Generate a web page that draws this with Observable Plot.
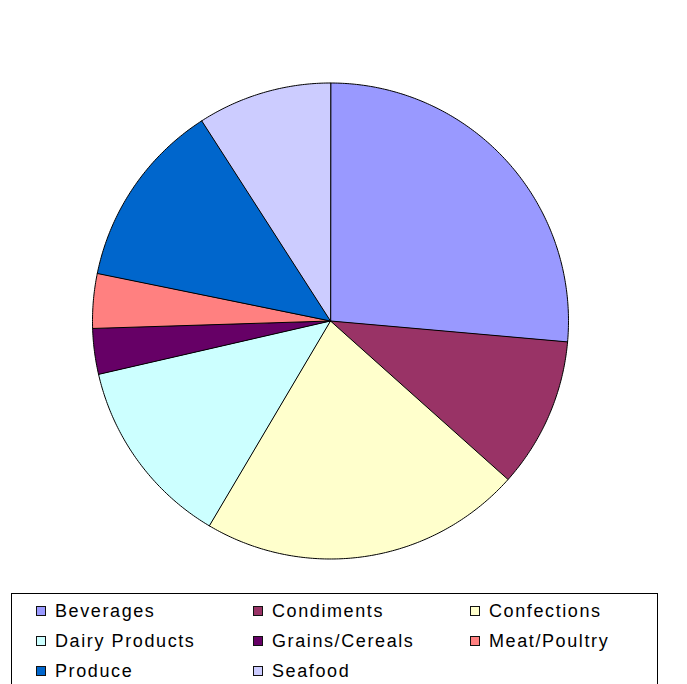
<!DOCTYPE html>
<html>
<head>
<meta charset="utf-8">
<script src="https://cdn.jsdelivr.net/npm/d3@7"></script>
<script src="https://cdn.jsdelivr.net/npm/@observablehq/plot@0.6"></script>
<style>
  html, body { margin: 0; padding: 0; background: #ffffff; }
  #wrap { position: relative; width: 687px; height: 684px; overflow: hidden; background: #ffffff; }
  #chart svg { display: block; }
  #legend {
    position: absolute; left: 11px; top: 593px; width: 647px; height: 120px;
    border: 1px solid #000; background: #fff; box-sizing: border-box;
    font-family: "Liberation Sans", Arial, sans-serif; font-size: 18px; letter-spacing: 1.6px; color: #000;
  }
  .item { position: absolute; display: flex; align-items: center; white-space: nowrap; height: 20px; }
  .sw { width: 10px; height: 10px; border: 1px solid #111; box-sizing: border-box; margin-right: 9px; flex: none; }
</style>
</head>
<body>
<div id="wrap">
  <div id="chart"></div>
  <div id="legend"></div>
</div>
<script>
const categories = ["Beverages", "Condiments", "Confections", "Dairy Products", "Grains/Cereals", "Meat/Poultry", "Produce", "Seafood"];
const values = [26.4, 10.2, 21.9, 12.9, 3.1, 3.7, 12.7, 9.1];
const colors = ["#9999FF", "#993366", "#FFFFCC", "#CCFFFF", "#660066", "#FF8080", "#0066CC", "#CCCCFF"];

const data = categories.map((c, i) => ({category: c, value: values[i]}));
const arcs = d3.pie().sort(null).value(d => d.value)(data);

// Slice outlines (center + arc samples) in unit coordinates from the pie angles
const pts = [];
arcs.forEach(a => {
  const c = a.data.category;
  pts.push({category: c, x: 0, y: 0});
  const n = Math.max(2, Math.ceil((a.endAngle - a.startAngle) / 0.01));
  for (let k = 0; k <= n; k++) {
    const t = a.startAngle + (a.endAngle - a.startAngle) * k / n;
    pts.push({category: c, x: Math.sin(t), y: Math.cos(t)});
  }
});

const chart = Plot.plot({
  width: 687,
  height: 590,
  marginLeft: 92,
  marginRight: 119,
  marginTop: 82.5,
  marginBottom: 31.5,
  x: {domain: [-1, 1], axis: null},
  y: {domain: [-1, 1], axis: null},
  color: {domain: categories, range: colors},
  style: {background: "transparent"},
  marks: [
    Plot.line(pts, {x: "x", y: "y", z: "category", fill: "category", stroke: "#000", strokeWidth: 1, curve: "linear-closed"})
  ]
});
document.getElementById("chart").appendChild(chart);

// Legend (HTML, below the SVG)
const legend = document.getElementById("legend");
const colX = [24, 241, 458];
const rowY = [17, 47, 77];
categories.forEach((c, i) => {
  const el = document.createElement("div");
  el.className = "item";
  el.style.left = colX[i % 3] + "px";
  el.style.top = (rowY[Math.floor(i / 3)] - 10) + "px";
  const sw = document.createElement("span");
  sw.className = "sw";
  sw.style.background = colors[i];
  const tx = document.createElement("span");
  tx.textContent = c;
  el.appendChild(sw);
  el.appendChild(tx);
  legend.appendChild(el);
});
</script>
</body>
</html>
